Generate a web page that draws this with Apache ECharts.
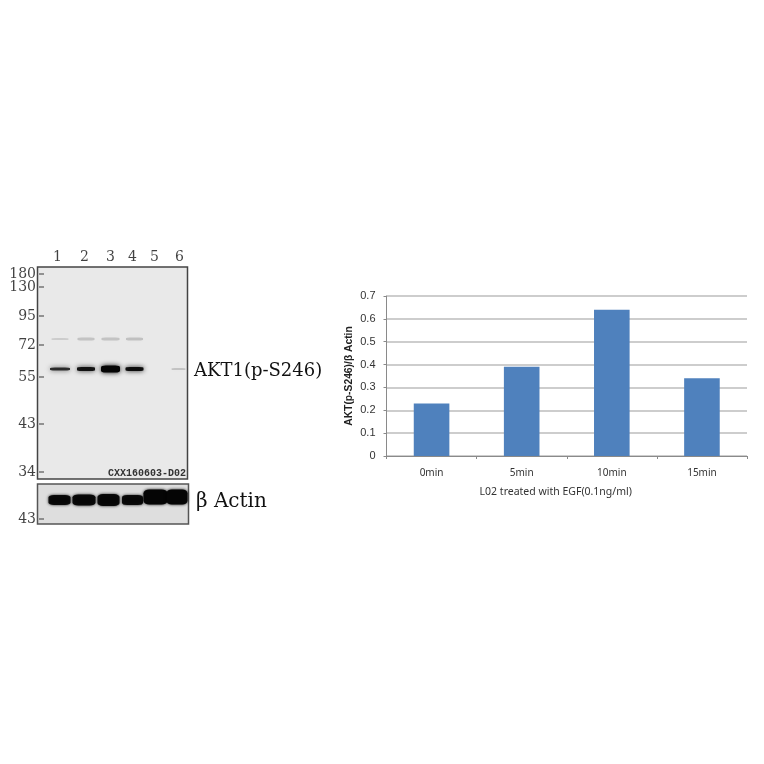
<!DOCTYPE html>
<html><head><meta charset="utf-8">
<style>html,body{margin:0;padding:0;background:#fff}#c{width:764px;height:764px}</style>
<script src="https://cdn.jsdelivr.net/npm/echarts@6/dist/echarts.min.js"></script>
</head><body><div id="c"></div>
<script>
// Bar chart data
const timePoints = ['0min','5min','10min','15min'];
const ratios = [0.23,0.39,0.64,0.34];
// Blot data
const laneLabels = ['1','2','3','4','5','6'];
const mwLabels = ['180','130','95','72','55','43','34'];
const mainBandIntensity = [0.78,0.9,1,0.95,0,0.16];
const upperBandIntensity = [0.12,0.16,0.16,0.17,0,0];
const actinIntensity = [0.95,0.95,0.95,0.95,1,1];
const actinMwLabels = ['43'];

// Layout, kept apart from the data
const laneX = [22.5,48.5,73,97,118,141];
const laneLabelX = [20,47,73,95,117,142];
const mwY = [7,20,49,78,110,157,205];
const actinX = [22,46.5,71,95,118,139.5];
const actinW = [22,23,22,21,24,21];
const actinY = [16,16,16,16,13,13];
const actinH = [10,11,12,10,15,15];
const mainY = 102, upperY = 72;
const mainW = [20,18,19,18,0,14];
const mainH = [3,4,7,4,0,2];
const upperW = [17,17,18,17,0,0];
const upperH = [2,3,3,3,0,0];
const serif = '"DejaVu Serif","Liberation Serif",serif';
const body = '"Noto Sans","DejaVu Sans",sans-serif';

function bandSeries(gridIdx, xs, y, intensity, ws, hs, blur){
  return {type:'scatter',xAxisIndex:gridIdx,yAxisIndex:gridIdx,silent:true,z:3,
    data:intensity.map((v,i)=>({value:[xs[i],y[i]===undefined?y:y[i]],
      symbolSize:[ws[i],hs[i]],
      itemStyle:{color:'#050505',opacity:v,shadowBlur:blur,shadowColor:'rgba(0,0,0,'+(v*0.95)+')'}}))
      .filter((d,i)=>intensity[i]>0),
    symbol:'roundRect'};
}
const hiddenX=(i,max)=>({type:'value',gridIndex:i,min:0,max:max,show:false});
const hiddenY=(i,max)=>({type:'value',gridIndex:i,min:0,max:max,inverse:true,show:false});
const tickLabelStyle={fontFamily:serif,fontSize:14,color:'#111'};

const option={
  animation:false,
  backgroundColor:'#fff',
  grid:[
    {left:386.5,right:17,top:296,height:160,containLabel:false},
    {left:37.5,top:267,width:150,height:212,show:true,backgroundColor:'#e9e9e9',borderColor:'#444',borderWidth:1.5},
    {left:37.5,top:484,width:151,height:40,show:true,backgroundColor:'#dedede',borderColor:'#555',borderWidth:1.5}
  ],
  xAxis:[
    {type:'category',gridIndex:0,data:timePoints,
     axisLine:{lineStyle:{color:'#8a8a8a',width:1}},
     axisTick:{show:true,alignWithLabel:false,length:3,lineStyle:{color:'#8a8a8a'}},
     axisLabel:{fontFamily:body,fontSize:10,color:'#333',margin:12},
     name:'L02 treated with EGF(0.1ng/ml)',nameLocation:'middle',nameGap:31,
     nameTextStyle:{fontFamily:body,fontSize:10.5,color:'#333',padding:[0,22,0,0]}},
    hiddenX(1,150),hiddenX(2,151)
  ],
  yAxis:[
    {type:'value',gridIndex:0,min:0,max:0.7,interval:0.1,
     axisLine:{show:true,lineStyle:{color:'#8a8a8a'}},
     axisTick:{show:true,length:3,lineStyle:{color:'#8a8a8a'}},
     splitLine:{lineStyle:{color:'#bcbcbc',width:1.5}},
     axisLabel:{fontFamily:'"Liberation Sans",Arial,sans-serif',fontSize:11,color:'#333',margin:11,
       formatter:v=>String(+v.toFixed(1))},
     name:'AKT(p-S246)/β Actin',nameLocation:'middle',nameGap:32,
     nameTextStyle:{fontFamily:'"Liberation Sans",Arial,sans-serif',fontWeight:'bold',fontSize:10.3,color:'#222'}},
    hiddenY(1,212),hiddenY(2,40)
  ],
  series:[
    {type:'bar',xAxisIndex:0,yAxisIndex:0,data:ratios,barWidth:'39.5%',itemStyle:{color:'#4f81bd'},z:4},
    bandSeries(1,laneX,upperY,upperBandIntensity,upperW,upperH,4),
    bandSeries(1,laneX,mainY,mainBandIntensity,mainW,mainH,5),
    bandSeries(2,actinX,actinY,actinIntensity,actinW,actinH,3),
    {type:'scatter',xAxisIndex:1,yAxisIndex:1,silent:true,symbol:'rect',symbolSize:[5,1.2],
     itemStyle:{color:'#333'},z:5,
     data:mwLabels.map((t,i)=>({value:[4,mwY[i]],name:t})),
     label:{show:true,position:'left',distance:3,formatter:p=>p.name,...tickLabelStyle}},
    {type:'scatter',xAxisIndex:2,yAxisIndex:2,silent:true,symbol:'rect',symbolSize:[5,1.2],
     itemStyle:{color:'#333'},z:5,
     data:actinMwLabels.map(t=>({value:[4,35],name:t})),
     label:{show:true,position:'left',distance:3,formatter:p=>p.name,...tickLabelStyle}},
    {type:'scatter',xAxisIndex:1,yAxisIndex:1,silent:true,symbolSize:0.01,clip:false,z:5,
     data:laneLabels.map((t,i)=>({value:[laneLabelX[i],0],name:t})),
     label:{show:true,position:'top',distance:3,formatter:p=>p.name,fontFamily:serif,fontSize:14,color:'#111'}}
  ],
  graphic:[
    {type:'text',left:108,top:468,z:10,style:{text:'CXX160603-D02',font:'bold 10px "Liberation Mono",monospace',fill:'#333'}},
    {type:'text',left:194,top:362,z:10,style:{text:'AKT1(p-S246)',font:'18px '+serif,fill:'#111'}},
    {type:'text',left:196,top:492,z:10,style:{text:'β Actin',font:'20px '+serif,fill:'#111'}}
  ]
};
echarts.init(document.getElementById('c'),null,{renderer:'canvas'}).setOption(option);
</script></body></html>
